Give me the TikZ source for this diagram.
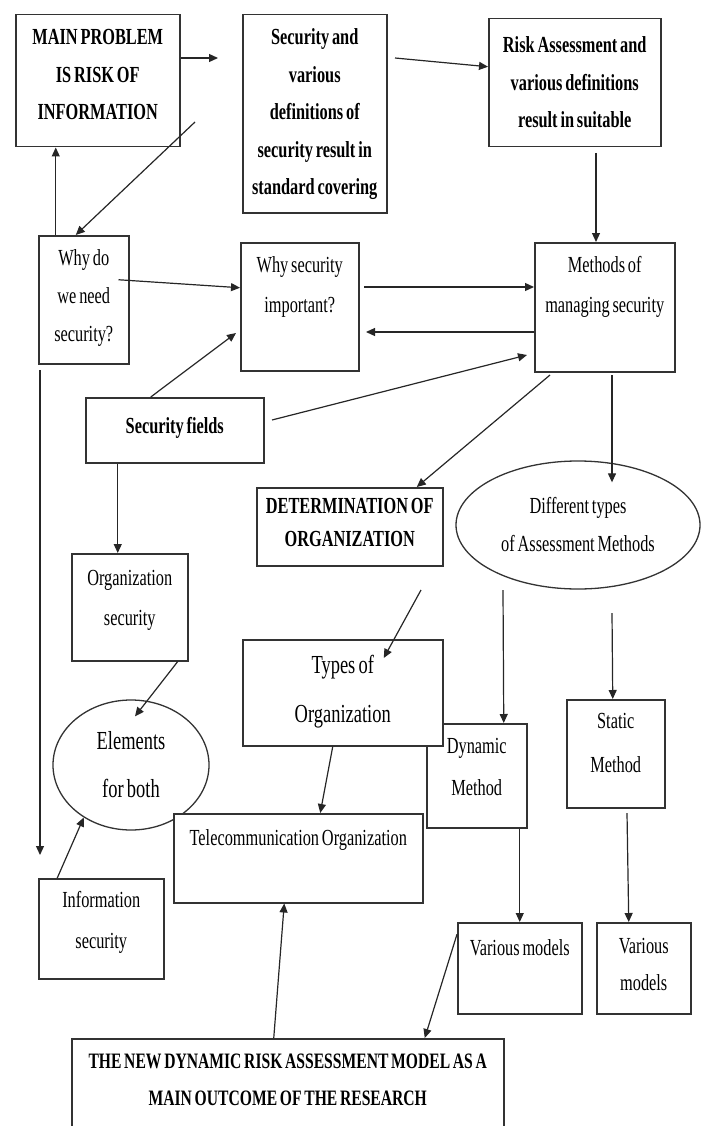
\documentclass[tikz,border=0pt]{standalone}
\usepackage{fontspec}
\setmainfont{Liberation Serif}[FakeStretch=0.71, WordSpace=0.7]
\usetikzlibrary{arrows.meta,shapes.geometric}

\begin{document}
\begin{tikzpicture}[
    x=1pt, y=-1pt, % one unit = one pixel of the scan, y downwards
    block/.style={rectangle, draw=black!80, line width=1.5pt, fill=white, anchor=north west, align=flush center, inner sep=0pt, font=\fontsize{23pt}{40pt}\selectfont},
    title/.style={block, font=\fontsize{23pt}{37.5pt}\selectfont\bfseries},
    oval/.style={ellipse, draw=black!80, line width=1.3pt, fill=white, align=center, inner sep=0pt, font=\fontsize{23pt}{38pt}\selectfont},
    arrow/.style={draw=black!85, line width=1.2pt, -{Triangle[length=9pt, width=8pt]}} % filled triangle tip
]
    \useasboundingbox (0,0) rectangle (707,1126);

    % Nodes
    \node (main) [title, text width=164pt, text height=30pt, text depth=102pt] at (15,14) {MAIN PROBLEM\\IS RISK OF\\INFORMATION};
    \node (secdef) [title, text width=144pt, text height=30pt, text depth=168pt] at (242,14) {Security and\\various\\definitions of\\security result in\\standard covering};
    \node (risk) [title, text width=172pt, text height=34pt, text depth=94pt] at (488,18) {Risk Assessment and\\various definitions\\result in suitable};

    \node (whyneed) [block, text width=90pt, text height=30pt, text depth=98pt, font=\fontsize{23pt}{38pt}\selectfont] at (38,235) {Why do\\we need\\security?};
    \node (whyimp) [block, text width=118pt, text height=30pt, text depth=98pt] at (240,242) {Why security\\important?};
    \node (methods) [block, text width=140pt, text height=30pt, text depth=99pt] at (534,242) {Methods of\\managing security};

    \node (secfields) [title, text width=178pt, text height=36pt, text depth=29pt] at (85,397) {Security fields};
    \node (determ) [title, text width=186pt, text height=26pt, text depth=52pt, font=\fontsize{23pt}{33pt}\selectfont\bfseries] at (256,487) {DETERMINATION OF\\ORGANIZATION};
    \node (diffell) [oval, minimum width=244pt, minimum height=128pt] at (578,525) {Different types\\of Assessment Methods};

    \node (orgsec) [block, text width=116pt, text height=32pt, text depth=75pt] at (71,553) {Organization\\security};
    \node (dynamic) [block, text width=100pt, text height=30pt, text depth=74pt, font=\fontsize{23pt}{42pt}\selectfont] at (426,723) {Dynamic\\Method};
    \node (types) [block, text width=200pt, text height=34pt, text depth=72pt, font=\fontsize{26pt}{49pt}\selectfont] at (242,639) {Types of\\Organization};
    \node (static) [block, text width=98pt, text height=29pt, text depth=79pt, font=\fontsize{23pt}{44pt}\selectfont] at (566,699) {Static\\Method};

    \node (elements) [oval, minimum width=156pt, minimum height=130pt, font=\fontsize{26pt}{48pt}\selectfont] at (131,765) {Elements\\for both};
    \node (telecom) [block, text width=249pt, text height=32pt, text depth=57pt] at (173,813) {Telecommunication Organization};
    \node (infosec) [block, text width=125pt, text height=29pt, text depth=71pt, font=\fontsize{23pt}{41pt}\selectfont] at (38,878) {Information\\security};
    \node (vmod1) [block, text width=124pt, text height=33pt, text depth=58pt] at (457,922) {Various models};
    \node (vmod2) [block, text width=94pt, text height=31pt, text depth=60pt, font=\fontsize{23pt}{37pt}\selectfont] at (596,922) {Various\\models};
    \node (newmodel) [title, text width=432pt, text height=30pt, text depth=62pt, font=\fontsize{22pt}{37pt}\selectfont\bfseries] at (71,1038) {THE NEW DYNAMIC RISK ASSESSMENT MODEL AS A\\MAIN OUTCOME OF THE RESEARCH};

    % Free ends
    \coordinate (aend) at (218,58);
    \coordinate (bstart) at (395,58);
    \coordinate (cstart) at (596,153);
    \coordinate (dstart) at (195,122);
    \coordinate (gstart) at (364,287);
    \coordinate (hend) at (366,332);
    \coordinate (iend) at (236,333);
    \coordinate (jstart) at (272,420);
    \coordinate (jend) at (527,355);
    \coordinate (lstart) at (550,375);
    \coordinate (mstart) at (612,375);
    \coordinate (nstart) at (40,370);
    \coordinate (nend) at (40,855);
    \coordinate (qstart) at (421,590);
    \coordinate (sstart) at (503,590);
    \coordinate (tstart) at (612,613);
    \coordinate (vstart) at (627,813);

    % Connections
    \path [arrow] (main.east |- aend) -- (aend);
    \path [arrow] (bstart) -- ([yshift=16pt]risk.west);
    \path [arrow] (cstart) -- (methods.north -| cstart);
    \path [arrow] (dstart) -- ([xshift=-8pt]whyneed.north);
    \path [arrow] ([xshift=-28pt]whyneed.north) -- ([xshift=-42pt]main.south);
    \path [arrow] ([xshift=-11pt,yshift=20pt]whyneed.east) -- ([yshift=19pt]whyimp.west);
    \path [arrow] (gstart) -- (methods.west |- gstart);
    \path [arrow] (methods.west |- hend) -- (hend);
    \path [arrow] ([xshift=-24pt]secfields.north) -- (iend);
    \path [arrow] (jstart) -- (jend);
    \path [arrow] ([xshift=-57pt]secfields.south) -- ([xshift=-12pt]orgsec.north);
    \path [arrow] (lstart) -- ([xshift=67pt]determ.north);
    \path [arrow] (mstart) -- ([xshift=34pt,yshift=-22pt]diffell.north);
    \path [arrow] (nstart) -- (nend);
    \path [arrow] ([xshift=48pt]orgsec.south) -- ([xshift=4pt,yshift=-17pt]elements.north);
    \path [arrow] ([xshift=-44pt]infosec.north) -- (elements.228);
    \path [arrow] (qstart) -- ([xshift=41pt,yshift=-19pt]types.north);
    \path [arrow] ([xshift=-10pt]types.south) -- ([xshift=22pt]telecom.north);
    \path [arrow] (sstart) -- ([xshift=27pt]dynamic.north);
    \path [arrow] (tstart) -- ([xshift=-3pt]static.north);
    \path [arrow] ([xshift=43pt]dynamic.south) -- (vmod1.north);
    \path [arrow] (vstart) -- ([xshift=-15pt]vmod2.north);
    \path [arrow] ([yshift=34pt]vmod1.west) -- ([xshift=137pt]newmodel.north);
    \path [arrow] ([xshift=-14pt]newmodel.north) -- ([xshift=-14pt]telecom.south);

\end{tikzpicture}
\end{document}
